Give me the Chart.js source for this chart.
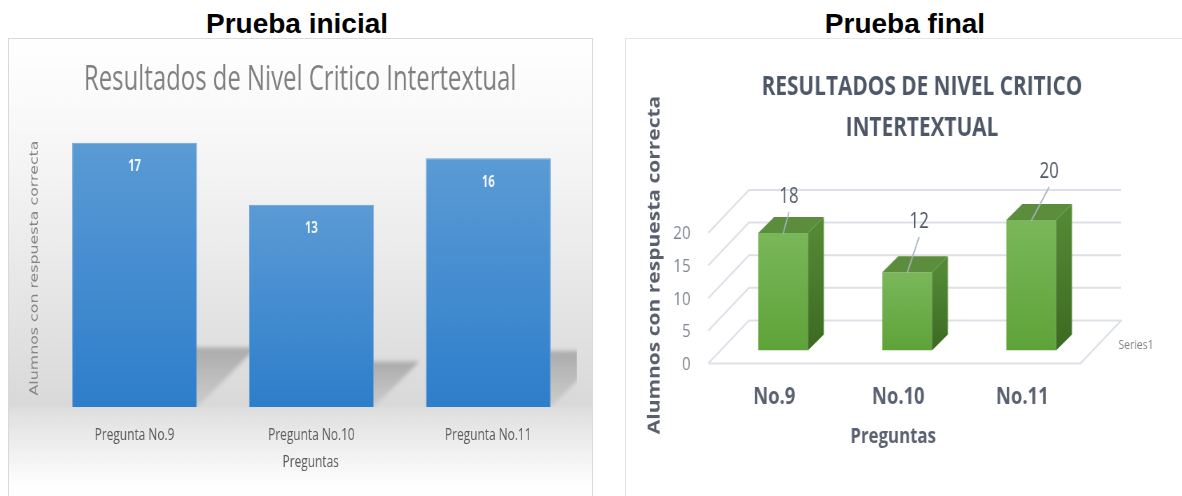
<!DOCTYPE html>
<html lang="es">
<head>
<meta charset="utf-8">
<title>Resultados de Nivel Critico Intertextual</title>
<script src="https://cdn.jsdelivr.net/npm/chart.js@4.4.1/dist/chart.umd.min.js"></script>
<style>
  html, body { margin: 0; padding: 0; background: #fff; }
  body { position: relative; width: 1182px; height: 496px; overflow: hidden; font-family: 'Liberation Sans', Arial, sans-serif; }
  .heading { position: absolute; top: 10px; width: 400px; text-align: center; font-size: 28px; line-height: 28px; font-weight: bold; color: #000; }
  .frame { position: absolute; top: 38px; height: 470px; }
  #frame-inicial { left: 8px; width: 583px; border: 1px solid #d9d9d9; }
  #frame-final { left: 625px; width: 570px; border: 1px solid #e1e6ec; }
  canvas { position: absolute; top: 39px; transform-origin: 0 0; }
  /* both charts are drawn wide and squeezed sideways, which gives the narrow lettering */
  #chart-inicial { left: 9px; transform: scaleX(0.7); }
  #chart-final { left: 626px; transform: scaleX(0.8); }
</style>
</head>
<body>
<div class="heading" style="left:97px">Prueba inicial</div>
<div class="heading" style="left:705px">Prueba final</div>
<div class="frame" id="frame-inicial"></div>
<div class="frame" id="frame-final"></div>
<canvas id="chart-inicial" width="833" height="457"></canvas>
<canvas id="chart-final" width="695" height="457"></canvas>

<script>
const initialLabels = ['Pregunta No.9', 'Pregunta No.10', 'Pregunta No.11'];
const initialValues = [17, 13, 16];

const finalLabels = ['No.9', 'No.10', 'No.11'];
const finalValues = [18, 12, 20];
const finalTicks = [0, 5, 10, 15, 20];
const seriesName = 'Series1';

const SQUEEZE_INITIAL = 0.7;

// vertical gradient for one bar, from its top down to the zero line
function barGradient(c, topColor, bottomColor) {
  const { chart, dataIndex } = c;
  if (!chart.chartArea || dataIndex == null) return topColor;
  const y = chart.scales.y;
  const top = y.getPixelForValue(c.dataset.data[dataIndex]);
  const bottom = y.getPixelForValue(0);
  const g = chart.ctx.createLinearGradient(0, top, 0, bottom);
  g.addColorStop(0, topColor);
  g.addColorStop(1, bottomColor);
  return g;
}

const panelBackground = {
  id: 'panelBackground',
  beforeDraw(chart, args, opts) {
    const { ctx, width, height } = chart;
    const g = ctx.createLinearGradient(0, 0, 0, height);
    opts.stops.forEach(([at, color]) => g.addColorStop(at, color));
    ctx.save();
    ctx.fillStyle = g;
    ctx.fillRect(0, 0, width, height);
    ctx.restore();
  }
};

// soft slanted shadow thrown behind each bar
const barShadow = {
  id: 'barShadow',
  beforeDatasetsDraw(chart, args, opts) {
    const { ctx, chartArea: a } = chart;
    ctx.save();
    ctx.beginPath();
    ctx.rect(a.left, a.top, a.right - a.left, a.bottom - a.top);
    ctx.clip();
    ctx.filter = 'blur(2px)';
    chart.getDatasetMeta(0).data.forEach(bar => {
      const s = (bar.base - bar.y) * opts.ratio;
      const dx = s / opts.squeeze;
      const left = bar.x - bar.width / 2;
      const right = bar.x + bar.width / 2;
      const g = ctx.createLinearGradient(0, bar.base - s, 0, bar.base);
      g.addColorStop(0, 'rgba(120,120,120,0.5)');
      g.addColorStop(1, 'rgba(120,120,120,0.12)');
      ctx.fillStyle = g;
      ctx.beginPath();
      ctx.moveTo(left, bar.base);
      ctx.lineTo(right, bar.base);
      ctx.lineTo(right + dx, bar.base - s);
      ctx.lineTo(left + dx, bar.base - s);
      ctx.closePath();
      ctx.fill();
    });
    ctx.restore();
  }
};

const insideValues = {
  id: 'insideValues',
  afterDatasetsDraw(chart, args, opts) {
    const { ctx } = chart;
    const values = chart.data.datasets[0].data;
    ctx.save();
    ctx.font = opts.font;
    ctx.fillStyle = opts.color;
    ctx.textAlign = 'center';
    ctx.textBaseline = 'middle';
    chart.getDatasetMeta(0).data.forEach((bar, i) => {
      ctx.fillText(String(values[i]), bar.x, bar.y + opts.inset);
    });
    ctx.restore();
  }
};

// chart title and axis captions, placed freely on the canvas
const captions = {
  id: 'captions',
  afterDraw(chart, args, opts) {
    const { ctx } = chart;
    opts.items.forEach(it => {
      ctx.save();
      ctx.translate(it.x, it.y);
      if (it.vertical) ctx.rotate(-Math.PI / 2);
      ctx.font = it.font;
      ctx.fillStyle = it.color;
      ctx.textAlign = 'center';
      ctx.textBaseline = 'middle';
      ctx.fillText(it.text, 0, 0);
      ctx.restore();
    });
  }
};

// walls, floor and bar depth for the column chart in perspective
const box3d = {
  id: 'box3d',
  beforeDatasetsDraw(chart, args, opts) {
    const { ctx, chartArea: a, scales: { y } } = chart;
    const f = opts.front, b = opts.back;
    ctx.save();
    ctx.strokeStyle = opts.gridColor;
    ctx.lineWidth = opts.gridWidth;
    ctx.lineJoin = 'round';
    y.ticks.forEach(t => {
      const py = y.getPixelForValue(t.value);
      ctx.beginPath();
      ctx.moveTo(a.left + f[0], py + f[1]);
      ctx.lineTo(a.left + b[0], py + b[1]);
      ctx.lineTo(a.right + b[0], py + b[1]);
      if (t.value === 0) {
        ctx.lineTo(a.right + f[0], py + f[1]);
        ctx.lineTo(a.left + f[0], py + f[1]);
      }
      ctx.stroke();
    });
    const zero = y.getPixelForValue(0);
    const mx = a.right + (f[0] + b[0]) / 2;
    const my = zero + (f[1] + b[1]) / 2;
    ctx.font = opts.seriesFont;
    ctx.fillStyle = opts.seriesColor;
    ctx.textAlign = 'left';
    ctx.textBaseline = 'middle';
    ctx.fillText(chart.data.datasets[0].label, mx + 22, my + 3);
    ctx.restore();
  },
  afterDatasetsDraw(chart, args, opts) {
    const { ctx } = chart;
    const [dx, dy] = opts.depth;
    const values = chart.data.datasets[0].data;
    ctx.save();
    chart.getDatasetMeta(0).data.forEach((bar, i) => {
      const l = bar.x - bar.width / 2;
      const r = bar.x + bar.width / 2;
      const side = ctx.createLinearGradient(0, bar.y, 0, bar.base);
      side.addColorStop(0, '#538834');
      side.addColorStop(1, '#3b6a21');
      ctx.fillStyle = side;
      ctx.beginPath();
      ctx.moveTo(r, bar.y);
      ctx.lineTo(r + dx, bar.y - dy);
      ctx.lineTo(r + dx, bar.base - dy);
      ctx.lineTo(r, bar.base);
      ctx.closePath();
      ctx.fill();

      ctx.fillStyle = '#5b8d3d';
      ctx.beginPath();
      ctx.moveTo(l, bar.y);
      ctx.lineTo(l + dx, bar.y - dy);
      ctx.lineTo(r + dx, bar.y - dy);
      ctx.lineTo(r, bar.y);
      ctx.closePath();
      ctx.fill();

      // value tag with its leader line
      const [sx, sy] = opts.tagShift[i];
      const tx = bar.x + sx;
      const ty = bar.y + sy;
      ctx.strokeStyle = opts.leaderColor;
      ctx.lineWidth = 1.5;
      ctx.beginPath();
      ctx.moveTo(tx, ty + 15);
      ctx.lineTo(bar.x, bar.y + 1);
      ctx.stroke();
      ctx.font = opts.tagFont;
      ctx.fillStyle = opts.tagColor;
      ctx.textAlign = 'center';
      ctx.textBaseline = 'middle';
      ctx.fillText(String(values[i]), tx, ty);
    });
    ctx.restore();
  }
};

new Chart(document.getElementById('chart-inicial'), {
  type: 'bar',
  data: {
    labels: initialLabels,
    datasets: [{
      label: seriesName,
      data: initialValues,
      backgroundColor: c => barGradient(c, '#5b9bd5', '#2e7ecb'),
      borderColor: '#65a2d9',
      borderWidth: 1,
      barPercentage: 0.706,
      categoryPercentage: 1
    }]
  },
  options: {
    responsive: false,
    animation: false,
    layout: { padding: { left: 53, right: 22, top: 57, bottom: 32.6 } },
    plugins: {
      legend: { display: false },
      tooltip: { enabled: false },
      panelBackground: {
        stops: [[0, '#ffffff'], [0.2, '#f8f8f8'], [0.5, '#e9e9e9'], [0.8, '#d9d9d9'],
                [0.815, '#e0e0e0'], [0.9, '#f0f0f0'], [0.97, '#fdfdfd'], [1, '#ffffff']]
      },
      barShadow: { ratio: 0.225, squeeze: SQUEEZE_INITIAL },
      insideValues: { font: 'bold 16px "Open Sans"', color: '#f4f8fc', inset: 24 },
      captions: {
        items: [
          { text: 'Resultados de Nivel Critico Intertextual', x: 416, y: 41,
            font: '34.2px "Open Sans"', color: '#808080' },
          { text: 'Alumnos con respuesta correcta', x: 37, y: 229, vertical: true,
            font: '15.8px "DejaVu Sans"', color: '#858585' },
          { text: 'Preguntas', x: 431, y: 423, font: '17px "Open Sans"', color: '#595959' }
        ]
      }
    },
    scales: {
      x: {
        grid: { display: false, drawTicks: false },
        border: { display: false },
        ticks: { padding: 18, color: '#595959', font: { family: 'Open Sans', size: 17 } }
      },
      y: { display: false, min: 0, max: 20 }
    }
  },
  plugins: [panelBackground, barShadow, insideValues, captions]
});

new Chart(document.getElementById('chart-final'), {
  type: 'bar',
  data: {
    labels: finalLabels,
    datasets: [{
      label: seriesName,
      data: finalValues,
      backgroundColor: c => barGradient(c, '#7ab75a', '#5ea338'),
      barPercentage: 0.4,
      categoryPercentage: 1
    }]
  },
  options: {
    responsive: false,
    animation: false,
    layout: { padding: { left: 0, right: 111, top: 181, bottom: 52 } },
    plugins: {
      legend: { display: false },
      tooltip: { enabled: false },
      captions: {
        items: [
          { text: 'RESULTADOS DE NIVEL CRITICO', x: 370, y: 48.5,
            font: 'bold 26px "Open Sans"', color: '#4d5767' },
          { text: 'INTERTEXTUAL', x: 370, y: 89.5,
            font: 'bold 26px "Open Sans"', color: '#4d5767' },
          { text: 'Alumnos con respuesta correcta', x: 36, y: 226, vertical: true,
            font: 'bold 21px "Open Sans"', color: '#5a606b' },
          { text: 'Preguntas', x: 334, y: 398, font: 'bold 21px "Open Sans"', color: '#5a6170' }
        ]
      },
      box3d: {
        front: [-16, 13],
        back: [35, -30],
        depth: [20, 16],
        gridColor: '#dde1e7',
        gridWidth: 2,
        seriesFont: '13px "Open Sans"',
        seriesColor: '#7f7f7f',
        tagShift: [[7.5, -36], [15, -50], [22.5, -48]],
        tagFont: '21px "Open Sans"',
        tagColor: '#4f5766',
        leaderColor: '#a9b3c1'
      }
    },
    scales: {
      x: {
        grid: { display: false, drawTicks: false },
        border: { display: false },
        ticks: {
          padding: 33,
          labelOffset: -11,
          color: '#5a6170',
          font: { family: 'Open Sans', size: 23, weight: 'bold' }
        }
      },
      y: {
        min: 0,
        max: 20,
        afterFit: s => { s.width = 118.75; },
        afterBuildTicks: s => { s.ticks = finalTicks.map(v => ({ value: v })); },
        grid: { display: false, drawTicks: false },
        border: { display: false },
        ticks: {
          autoSkip: false,
          padding: 38,
          labelOffset: 14,
          color: '#7f8591',
          font: { family: 'Open Sans', size: 19 }
        }
      }
    }
  },
  plugins: [box3d, captions]
});
</script>
</body>
</html>
